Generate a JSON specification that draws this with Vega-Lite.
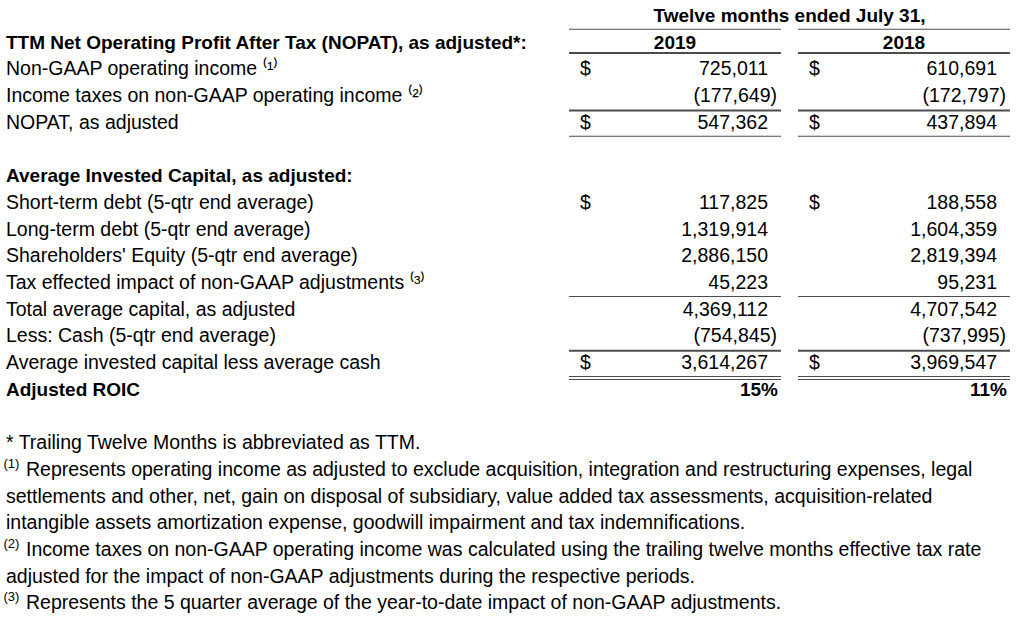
{
  "$schema": "https://vega.github.io/schema/vega-lite/v6.json",
  "width": 1021,
  "height": 628,
  "padding": 0,
  "autosize": {"type": "fit", "contains": "padding"},
  "background": "white",
  "config": {
    "view": {"stroke": null},
    "axis": {"disable": true},
    "text": {"font": "Liberation Sans", "fontSize": 19.5, "color": "black", "baseline": "middle"},
    "tick": {"color": "black"}
  },
  "datasets": {
    "labels": [
      {"row": 0, "text": "Twelve months ended July 31,", "type": "span"},
      {"row": 1, "text": "TTM Net Operating Profit After Tax (NOPAT), as adjusted*:", "type": "heading"},
      {"row": 2, "text": "Non-GAAP operating income ⁽¹⁾", "type": "item"},
      {"row": 3, "text": "Income taxes on non-GAAP operating income ⁽²⁾", "type": "item"},
      {"row": 4, "text": "NOPAT, as adjusted", "type": "item"},
      {"row": 6, "text": "Average Invested Capital, as adjusted:", "type": "heading"},
      {"row": 7, "text": "Short-term debt (5-qtr end average)", "type": "item"},
      {"row": 8, "text": "Long-term debt (5-qtr end average)", "type": "item"},
      {"row": 9, "text": "Shareholders' Equity (5-qtr end average)", "type": "item"},
      {"row": 10, "text": "Tax effected impact of non-GAAP adjustments ⁽³⁾", "type": "item"},
      {"row": 11, "text": "Total average capital, as adjusted", "type": "item"},
      {"row": 12, "text": "Less: Cash (5-qtr end average)", "type": "item"},
      {"row": 13, "text": "Average invested capital less average cash", "type": "item"},
      {"row": 14, "text": "Adjusted ROIC", "type": "heading"},
      {"row": 16, "text": "* Trailing Twelve Months is abbreviated as TTM.", "type": "note", "sup": ""},
      {"row": 17, "text": "Represents operating income as adjusted to exclude acquisition, integration and restructuring expenses, legal", "type": "note", "sup": "(1)"},
      {"row": 18, "text": "settlements and other, net, gain on disposal of subsidiary, value added tax assessments, acquisition-related", "type": "note", "sup": ""},
      {"row": 19, "text": "intangible assets amortization expense, goodwill impairment and tax indemnifications.", "type": "note", "sup": ""},
      {"row": 20, "text": "Income taxes on non-GAAP operating income was calculated using the trailing twelve months effective tax rate", "type": "note", "sup": "(2)"},
      {"row": 21, "text": "adjusted for the impact of non-GAAP adjustments during the respective periods.", "type": "note", "sup": ""},
      {"row": 22, "text": "Represents the 5 quarter average of the year-to-date impact of non-GAAP adjustments.", "type": "note", "sup": "(3)"}
    ],
    "years": [
      {"row": 1, "year": "2019"},
      {"row": 1, "year": "2018"}
    ],
    "values": [
      {"row": 2, "year": "2019", "value": 725011, "usd": true},
      {"row": 2, "year": "2018", "value": 610691, "usd": true},
      {"row": 3, "year": "2019", "value": -177649, "usd": false},
      {"row": 3, "year": "2018", "value": -172797, "usd": false},
      {"row": 4, "year": "2019", "value": 547362, "usd": true},
      {"row": 4, "year": "2018", "value": 437894, "usd": true},
      {"row": 7, "year": "2019", "value": 117825, "usd": true},
      {"row": 7, "year": "2018", "value": 188558, "usd": true},
      {"row": 8, "year": "2019", "value": 1319914, "usd": false},
      {"row": 8, "year": "2018", "value": 1604359, "usd": false},
      {"row": 9, "year": "2019", "value": 2886150, "usd": false},
      {"row": 9, "year": "2018", "value": 2819394, "usd": false},
      {"row": 10, "year": "2019", "value": 45223, "usd": false},
      {"row": 10, "year": "2018", "value": 95231, "usd": false},
      {"row": 11, "year": "2019", "value": 4369112, "usd": false},
      {"row": 11, "year": "2018", "value": 4707542, "usd": false},
      {"row": 12, "year": "2019", "value": -754845, "usd": false},
      {"row": 12, "year": "2018", "value": -737995, "usd": false},
      {"row": 13, "year": "2019", "value": 3614267, "usd": true},
      {"row": 13, "year": "2018", "value": 3969547, "usd": true}
    ],
    "pct": [
      {"row": 14, "year": "2019", "value": 0.1514},
      {"row": 14, "year": "2018", "value": 0.1103}
    ],
    "rules": [
      {"row": 0.5, "year": "2019", "kind": "single"},
      {"row": 0.5, "year": "2018", "kind": "single"},
      {"row": 1.5, "year": "2019", "kind": "colhead"},
      {"row": 1.5, "year": "2018", "kind": "colhead"},
      {"row": 3.5, "year": "2019", "kind": "total"},
      {"row": 3.5, "year": "2018", "kind": "total"},
      {"row": 4.5, "year": "2019", "kind": "single"},
      {"row": 4.5, "year": "2018", "kind": "single"},
      {"row": 10.5, "year": "2019", "kind": "single"},
      {"row": 10.5, "year": "2018", "kind": "single"},
      {"row": 12.5, "year": "2019", "kind": "total"},
      {"row": 12.5, "year": "2018", "kind": "total"},
      {"row": 13.5, "year": "2019", "kind": "double"},
      {"row": 13.5, "year": "2018", "kind": "double"}
    ]
  },
  "encoding": {
    "y": {"field": "row", "type": "quantitative", "scale": {"domain": [-0.6, 22.92], "reverse": true, "nice": false, "zero": false}}
  },
  "layer": [
    {
      "data": {"name": "labels"},
      "transform": [{"filter": "datum.type === 'heading'"}],
      "mark": {"type": "text", "align": "left", "dx": -504.5, "fontWeight": "bold", "fontSize": 19},
      "encoding": {"text": {"field": "text"}}
    },
    {
      "data": {"name": "labels"},
      "transform": [{"filter": "datum.type === 'item'"}],
      "mark": {"type": "text", "align": "left", "dx": -504.5, "font": "Liberation Sans, Noto Sans, Roboto, sans-serif"},
      "encoding": {"text": {"field": "text"}}
    },
    {
      "data": {"name": "labels"},
      "transform": [{"filter": "datum.type === 'note' && datum.sup === ''"}],
      "mark": {"type": "text", "align": "left", "dx": -504.5},
      "encoding": {"text": {"field": "text"}}
    },
    {
      "data": {"name": "labels"},
      "transform": [{"filter": "datum.type === 'note' && datum.sup !== ''"}],
      "mark": {"type": "text", "align": "left", "dx": -484.5},
      "encoding": {"text": {"field": "text"}}
    },
    {
      "data": {"name": "labels"},
      "transform": [{"filter": "datum.type === 'note' && datum.sup !== ''"}],
      "mark": {"type": "text", "align": "left", "dx": -507, "dy": -6, "fontSize": 13},
      "encoding": {"text": {"field": "sup"}}
    },
    {
      "data": {"name": "labels"},
      "transform": [{"filter": "datum.type === 'span'"}],
      "mark": {"type": "text", "align": "center", "dx": 279, "fontWeight": "bold", "fontSize": 19},
      "encoding": {"text": {"field": "text"}}
    },
    {
      "data": {"name": "years"},
      "mark": {"type": "text", "align": "center", "fontWeight": "bold", "fontSize": 19},
      "encoding": {
        "x": {"field": "year", "type": "nominal", "scale": {"type": "band", "domain": ["2019", "2018"], "range": [569, 1010], "paddingInner": 0.0742, "paddingOuter": 0}},
        "text": {"field": "year"}
      }
    },
    {
      "data": {"name": "values"},
      "transform": [{"filter": "datum.usd"}],
      "mark": {"type": "text", "align": "left", "dx": -95},
      "encoding": {
        "x": {"field": "year", "type": "nominal"},
        "text": {"value": "$"}
      }
    },
    {
      "data": {"name": "values"},
      "transform": [{"filter": "datum.value >= 0"}],
      "mark": {"type": "text", "align": "right", "dx": 93},
      "encoding": {
        "x": {"field": "year", "type": "nominal"},
        "text": {"field": "value", "type": "quantitative", "format": ",.0f"}
      }
    },
    {
      "data": {"name": "values"},
      "transform": [{"filter": "datum.value < 0"}],
      "mark": {"type": "text", "align": "right", "dx": 102},
      "encoding": {
        "x": {"field": "year", "type": "nominal"},
        "text": {"field": "value", "type": "quantitative", "format": "(,.0f"}
      }
    },
    {
      "data": {"name": "pct"},
      "mark": {"type": "text", "align": "right", "dx": 103, "fontWeight": "bold", "fontSize": 19},
      "encoding": {
        "x": {"field": "year", "type": "nominal"},
        "text": {"field": "value", "type": "quantitative", "format": ".0%"}
      }
    },
    {
      "data": {"name": "rules"},
      "transform": [{"filter": "datum.kind === 'single'"}],
      "mark": {"type": "tick", "size": 212, "thickness": 1},
      "encoding": {"x": {"field": "year", "type": "nominal"}}
    },
    {
      "data": {"name": "rules"},
      "transform": [{"filter": "datum.kind === 'total'"}],
      "mark": {"type": "tick", "size": 212, "thickness": 2, "yOffset": 1},
      "encoding": {"x": {"field": "year", "type": "nominal"}}
    },
    {
      "data": {"name": "rules"},
      "transform": [{"filter": "datum.kind === 'colhead'"}],
      "mark": {"type": "tick", "size": 212, "thickness": 2, "yOffset": -3},
      "encoding": {"x": {"field": "year", "type": "nominal"}}
    },
    {
      "data": {"name": "rules"},
      "transform": [{"filter": "datum.kind === 'double'"}],
      "mark": {"type": "tick", "size": 212, "thickness": 1},
      "encoding": {"x": {"field": "year", "type": "nominal"}}
    },
    {
      "data": {"name": "rules"},
      "transform": [{"filter": "datum.kind === 'double'"}],
      "mark": {"type": "tick", "size": 212, "thickness": 1, "yOffset": 3},
      "encoding": {"x": {"field": "year", "type": "nominal"}}
    }
  ]
}
